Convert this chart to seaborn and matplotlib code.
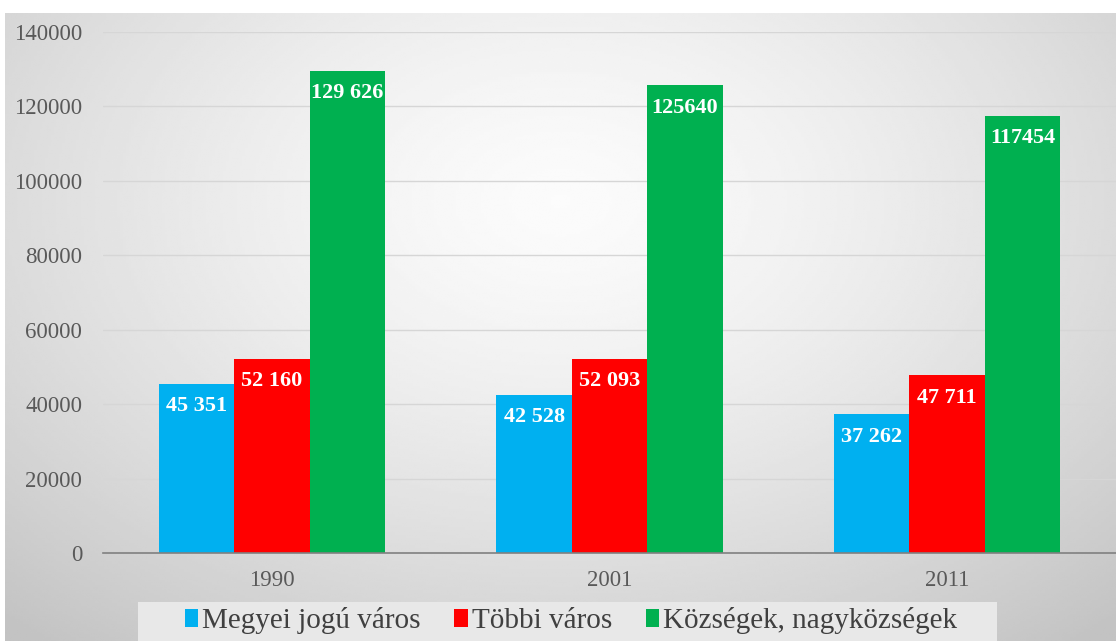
import numpy as np
import pandas as pd
import matplotlib
matplotlib.use("Agg")
import matplotlib.pyplot as plt
import seaborn as sns
from matplotlib.patches import Rectangle

years = ["1990", "2001", "2011"]
types = ["Megyei jogú város", "Többi város", "Községek, nagyközségek"]
megyei = [45351, 42528, 37262]
tobbi = [52160, 52093, 47711]
kozsegek = [129626, 125640, 117454]
labels = {
    "Megyei jogú város": ["45 351", "42 528", "37 262"],
    "Többi város": ["52 160", "52 093", "47 711"],
    "Községek, nagyközségek": ["129 626", "125640", "117454"],
}
colors = ["#00b0f0", "#ff0000", "#00b050"]

df = pd.DataFrame({
    "year": years * 3,
    "type": [types[0]] * 3 + [types[1]] * 3 + [types[2]] * 3,
    "value": megyei + tobbi + kozsegek,
})

sns.set_theme(style="white")
plt.rcParams["font.family"] = ["Liberation Serif", "DejaVu Serif"]

fig = plt.figure(figsize=(11.16, 6.41), dpi=100)
fig.patch.set_facecolor("white")

# radial grey background, white strip at top and left
bg = fig.add_axes([5 / 1116, 0, 1 - 5 / 1116, 1 - 13 / 641], zorder=-5)
gx, gy = np.meshgrid(np.linspace(0, 1, 400), np.linspace(0, 1, 240))
r = np.sqrt(((gx - 0.5) / 0.75) ** 2 + ((gy - 0.3) / 0.9) ** 2)
r = np.clip(r, 0, 1)
shade = 0.985 - 0.22 * r ** 1.4
bg.imshow(shade, cmap="gray", vmin=0, vmax=1, aspect="auto",
          extent=[0, 1, 1, 0], interpolation="bilinear")
bg.axis("off")

ax = fig.add_axes([103 / 1116, 1 - 553 / 641, 1 - 103 / 1116, (553 - 32) / 641])
ax.patch.set_alpha(0)

sns.barplot(data=df, x="year", y="value", hue="type", palette=colors,
            width=0.67, gap=0, saturation=1, linewidth=0, ax=ax, legend=True)

for cont, t in zip(ax.containers, types):
    for bar, lab in zip(cont, labels[t]):
        ax.annotate(lab, (bar.get_x() + bar.get_width() / 2, bar.get_height()),
                    xytext=(0, -16), textcoords="offset points",
                    ha="center", va="center", color="white",
                    fontsize=16, fontweight="bold")

ax.set_ylim(0, 140000)
ax.set_xlim(-0.5, 2.5)
ax.set_yticks(range(0, 140001, 20000))
ax.yaxis.grid(True, color="#d6d6d6", linewidth=1)
ax.set_axisbelow(True)
for s in ["top", "right", "left"]:
    ax.spines[s].set_visible(False)
ax.spines["bottom"].set_color("#808080")
ax.spines["bottom"].set_linewidth(1.2)
ax.tick_params(axis="y", length=0, pad=15, labelsize=16.5, labelcolor="#595959")
ax.tick_params(axis="x", length=0, pad=12, labelsize=16.5, labelcolor="#595959")
ax.set_xlabel("")
ax.set_ylabel("")

# legend box
fig.patches.append(Rectangle((138 / 1116, 0), (997 - 138) / 1116, 39 / 641,
                             transform=fig.transFigure, facecolor="#e8e8e8",
                             edgecolor="none", zorder=1))

handles, leg_labels = ax.get_legend_handles_labels()
ax.get_legend().remove()
leg = fig.legend(handles, leg_labels, loc="center",
                 bbox_to_anchor=(571 / 1116, 1 - 621 / 641), ncol=3,
                 frameon=False, fontsize=21, handlelength=0.45,
                 handleheight=0.6, handletextpad=0.15, columnspacing=1.15,
                 borderpad=0.2, labelcolor="#404040")
leg.set_zorder(2)

fig.savefig("out.png", dpi=100)
